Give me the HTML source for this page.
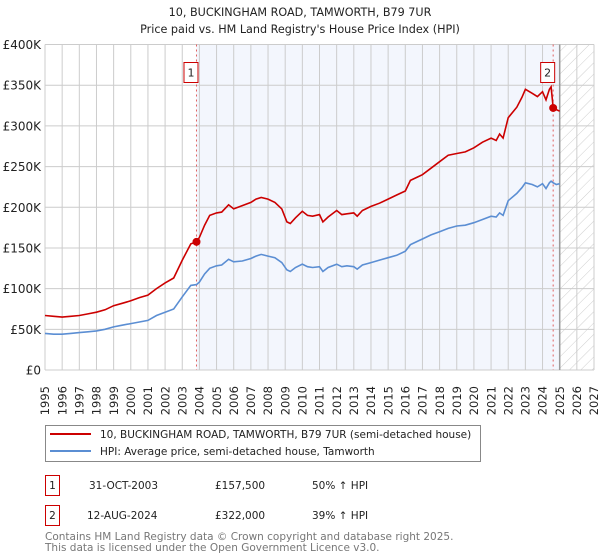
<!DOCTYPE html>
<html><head><meta charset="utf-8"><style>
body{margin:0;background:#fff;}
svg{display:block;font-family:"DejaVu Sans","Liberation Sans",sans-serif;}
</style></head><body>
<svg id="chart" width="600" height="560" viewBox="0 0 600 560" xmlns="http://www.w3.org/2000/svg">
<defs>
<pattern id="hatch" width="8" height="8" patternUnits="userSpaceOnUse" patternTransform="rotate(45)">
<line x1="0" y1="0" x2="0" y2="8" stroke="#cfcfcf" stroke-width="1"/>
</pattern>
</defs>
<text x="300" y="16" text-anchor="middle" font-size="11.2" fill="#222">10, BUCKINGHAM ROAD, TAMWORTH, B79 7UR</text>
<text x="300" y="33" text-anchor="middle" font-size="11.2" fill="#222">Price paid vs. HM Land Registry's House Price Index (HPI)</text>
<g id="plot"></g>
<g>
<rect x="45.5" y="425.5" width="435" height="36" fill="#fff" stroke="#888"/>
<line x1="50" y1="434" x2="91" y2="434" stroke="#cc0000" stroke-width="2"/>
<text x="100" y="438" font-size="10.5" fill="#222">10, BUCKINGHAM ROAD, TAMWORTH, B79 7UR (semi-detached house)</text>
<line x1="50" y1="451" x2="91" y2="451" stroke="#5b8ed3" stroke-width="2"/>
<text x="100" y="455" font-size="10.5" fill="#222">HPI: Average price, semi-detached house, Tamworth</text>
</g>
<g font-size="10.5" fill="#222">
<rect x="45.5" y="475.5" width="14" height="20" fill="#fff" stroke="#cc0000"/>
<text x="52.5" y="489" text-anchor="middle">1</text>
<text x="89" y="489">31-OCT-2003</text>
<text x="215" y="489">£157,500</text>
<text x="312" y="489">50% ↑ HPI</text>
<rect x="45.5" y="505.5" width="14" height="20" fill="#fff" stroke="#cc0000"/>
<text x="52.5" y="519" text-anchor="middle">2</text>
<text x="87" y="519">12-AUG-2024</text>
<text x="215" y="519">£322,000</text>
<text x="312" y="519">39% ↑ HPI</text>
</g>
<text x="45" y="540" font-size="10.5" fill="#777">Contains HM Land Registry data © Crown copyright and database right 2025.</text>
<text x="45" y="551" font-size="10.5" fill="#777">This data is licensed under the Open Government Licence v3.0.</text>
</svg>
<script>
const yTicks=[0,50000,100000,150000,200000,250000,300000,350000,400000];
const yTickLabels=["£0","£50K","£100K","£150K","£200K","£250K","£300K","£350K","£400K"];
const xYears=[1995,1996,1997,1998,1999,2000,2001,2002,2003,2004,2005,2006,2007,2008,2009,2010,2011,2012,2013,2014,2015,2016,2017,2018,2019,2020,2021,2022,2023,2024,2025,2026,2027];
const propDates=[1995,1995.5,1996,1996.5,1997,1997.5,1998,1998.5,1999,1999.5,2000,2000.5,2001,2001.5,2002,2002.5,2003,2003.5,2003.83,2004,2004.3,2004.6,2005,2005.3,2005.7,2006,2006.5,2007,2007.3,2007.6,2008,2008.4,2008.8,2009.1,2009.3,2009.6,2010,2010.3,2010.6,2011,2011.2,2011.5,2012,2012.3,2012.6,2013,2013.2,2013.5,2014,2014.5,2015,2015.5,2016,2016.3,2016.7,2017,2017.5,2018,2018.5,2019,2019.5,2020,2020.5,2021,2021.3,2021.5,2021.7,2022,2022.5,2022.8,2023,2023.4,2023.7,2024,2024.2,2024.4,2024.5,2024.62,2024.8,2025];
const propValues=[67000,66000,65000,66000,67000,69000,71000,74000,79000,82000,85000,89000,92000,100000,107000,113000,135000,155000,157500,163000,178000,190000,193000,194000,203000,198000,202000,206000,210000,212000,210000,206000,198000,182000,180000,187000,195000,190000,189000,191000,182000,188000,196000,191000,192000,193000,189000,196000,201000,205000,210000,215000,220000,233000,237000,240000,248000,256000,264000,266000,268000,273000,280000,285000,282000,290000,285000,310000,323000,335000,345000,340000,336000,342000,332000,345000,348000,322000,320000,318000];
const hpiDates=[1995,1995.5,1996,1996.5,1997,1997.5,1998,1998.5,1999,1999.5,2000,2000.5,2001,2001.5,2002,2002.5,2003,2003.5,2003.83,2004,2004.3,2004.6,2005,2005.3,2005.7,2006,2006.5,2007,2007.3,2007.6,2008,2008.4,2008.8,2009.1,2009.3,2009.6,2010,2010.3,2010.6,2011,2011.2,2011.5,2012,2012.3,2012.6,2013,2013.2,2013.5,2014,2014.5,2015,2015.5,2016,2016.3,2016.7,2017,2017.5,2018,2018.5,2019,2019.5,2020,2020.5,2021,2021.3,2021.5,2021.7,2022,2022.5,2022.8,2023,2023.4,2023.7,2024,2024.2,2024.4,2024.5,2024.62,2024.8,2025];
const hpiValues=[45000,44000,44000,45000,46000,47000,48000,50000,53000,55000,57000,59000,61000,67000,71000,75000,90000,104000,105000,108000,118000,125000,128000,129000,136000,133000,134000,137000,140000,142000,140000,138000,132000,123000,121000,126000,130000,127000,126000,127000,121000,126000,130000,127000,128000,127000,124000,129000,132000,135000,138000,141000,146000,154000,158000,161000,166000,170000,174000,177000,178000,181000,185000,189000,188000,193000,190000,208000,217000,224000,230000,228000,225000,229000,223000,230000,232000,230000,228000,229000];
const sales=[{d:2003.83,v:157500,n:"1"},{d:2024.62,v:322000,n:"2"}];

const X0=45,X1=594,Y0=370,Y1=44.5;
const xs=d=>X0+(d-1995)/(2027-1995)*(X1-X0);
const ys=v=>Y0-(v/400000)*(Y0-Y1);
const NS="http://www.w3.org/2000/svg";
const plot=document.getElementById('plot');
function mk(tag,attrs,parent){const e=document.createElementNS(NS,tag);for(const k in attrs)e.setAttribute(k,attrs[k]);(parent||plot).appendChild(e);return e;}

let e=mk('rect',{x:xs(2003.83),y:Y1,width:xs(2025)-xs(2003.83),height:Y0-Y1,fill:'#f3f6fd'});


e=mk('rect',{x:xs(2025),y:Y1,width:X1-xs(2025),height:Y0-Y1,fill:'url(#hatch)'});



xYears.forEach(y=>{
  const g=mk('line',{x1:xs(y),x2:xs(y),y1:Y1,y2:Y0,stroke:'#cccccc','stroke-width':1});
  
  
  const t=mk('text',{x:0,y:0,'font-size':11.5,fill:'#222','text-anchor':'end',transform:`translate(${xs(y)+4.2},${Y0+16}) rotate(-90)`});
  t.textContent=y;
  
  
});
yTicks.forEach((v,i)=>{
  const g=mk('line',{x1:X0,x2:X1,y1:ys(v),y2:ys(v),stroke:'#cccccc','stroke-width':1});
  
  
  const t=mk('text',{x:X0-4,y:ys(v)+4.5,'font-size':12,fill:'#222','text-anchor':'end'});
  t.textContent=yTickLabels[i];
  
  
});
e=mk('line',{x1:xs(2025),x2:xs(2025),y1:Y1,y2:Y0,stroke:'#999','stroke-width':1.5});



sales.forEach(s=>{
  const l=mk('line',{x1:xs(s.d),x2:xs(s.d),y1:Y1,y2:Y0,stroke:'#e06060','stroke-width':1,'stroke-dasharray':'2,3'});
  
  
});

function pts(ds,vs){return ds.map((d,i)=>xs(d).toFixed(1)+','+ys(vs[i]).toFixed(1)).join(' ');}
e=mk('polyline',{points:pts(hpiDates,hpiValues),fill:'none',stroke:'#5b8ed3','stroke-width':1.6});


e=mk('polyline',{points:pts(propDates,propValues),fill:'none',stroke:'#cc0000','stroke-width':1.6});



sales.forEach(s=>{
  const c=mk('circle',{cx:xs(s.d),cy:ys(s.v),r:4,fill:'#cc0000'});
  
  
  const r=mk('rect',{x:xs(s.d)-12.5,y:62.5,width:14,height:20,fill:'#fff',stroke:'#cc0000'});
  
  
  const t=mk('text',{x:xs(s.d)-5.5,y:76.5,'font-size':11,fill:'#222','text-anchor':'middle'});
  t.textContent=s.n;
  
  
});
</script>
</body></html>
